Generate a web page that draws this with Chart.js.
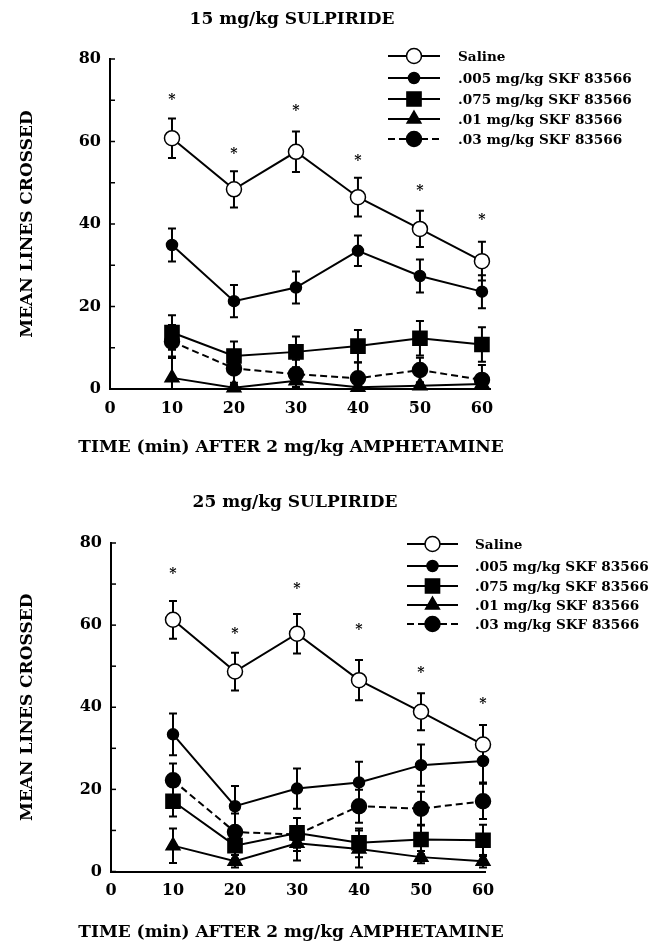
<!DOCTYPE html>
<html>
<head>
<meta charset="utf-8">
<script src="https://cdn.jsdelivr.net/npm/chart.js@4/dist/chart.umd.min.js"></script>
<style>
  body { margin: 0; background: #fff; }
  canvas { display: block; }
</style>
</head>
<body>
<canvas id="top" width="648" height="471"></canvas>
<canvas id="bottom" width="648" height="472"></canvas>
<script>
// x values (minutes after amphetamine) and axis ticks
const times = [10, 20, 30, 40, 50, 60];
const xTickValues = [0, 10, 20, 30, 40, 50, 60];
const yTickValues = [0, 10, 20, 30, 40, 50, 60, 70, 80];
const yLabelValues = [0, 20, 40, 60, 80];

const seriesNames = ['Saline', '.005 mg/kg SKF 83566', '.075 mg/kg SKF 83566', '.01 mg/kg SKF 83566', '.03 mg/kg SKF 83566'];

// 15 mg/kg sulpiride
const saline15 = [60.8, 48.4, 57.5, 46.5, 38.8, 31.0];
const saline15Err = [4.8, 4.4, 4.9, 4.7, 4.4, 4.7];
const skf005_15 = [34.9, 21.3, 24.6, 33.5, 27.4, 23.6];
const skf005_15Err = [4.0, 3.9, 3.9, 3.7, 4.0, 4.0];
const skf075_15 = [13.7, 8.0, 9.0, 10.4, 12.3, 10.8];
const skf075_15Err = [4.2, 3.5, 3.7, 3.9, 4.2, 4.2];
const skf01_15 = [2.7, 0.3, 2.0, 0.4, 0.8, 1.2];
const skf01_15Err = [5.2, 0.8, 1.5, 0.8, 0.8, 1.0];
const skf03_15 = [11.5, 5.0, 3.6, 2.6, 4.6, 2.2];
const skf03_15Err = [4.0, 3.5, 3.5, 3.8, 3.0, 3.6];
const stars15 = [70.8, 57.5, 68.0, 55.8, 48.7, 41.5];

// 25 mg/kg sulpiride
const saline25 = [61.3, 48.7, 57.9, 46.6, 38.9, 30.9];
const saline25Err = [4.6, 4.6, 4.8, 4.9, 4.5, 4.8];
const skf005_25 = [33.4, 15.9, 20.2, 21.7, 25.9, 26.9];
const skf005_25Err = [5.1, 4.9, 4.9, 5.0, 5.0, 5.2];
const skf075_25 = [17.1, 6.3, 9.4, 7.0, 7.8, 7.6];
const skf075_25Err = [3.7, 3.2, 3.6, 3.5, 3.6, 3.8];
const skf01_25 = [6.3, 2.5, 6.9, 5.5, 3.5, 2.5];
const skf01_25Err = [4.2, 1.5, 4.2, 4.5, 1.5, 1.5];
const skf03_25 = [22.2, 9.6, 9.0, 15.9, 15.3, 17.1];
const skf03_25Err = [4.1, 4.5, 4.0, 4.0, 4.1, 4.3];
const stars25 = [73.1, 58.6, 69.5, 59.4, 48.9, 41.4];

const FONT = "'DejaVu Serif', serif";

// marker look per series (same order as seriesNames)
const styles = [
  { pointStyle: 'circle', radius: 7.5, fill: '#fff', dash: [] },
  { pointStyle: 'circle', radius: 5.5, fill: '#000', dash: [] },
  { pointStyle: 'rect', radius: 10, fill: '#000', dash: [] },
  { pointStyle: 'triangle', radius: 8, fill: '#000', dash: [] },
  { pointStyle: 'circle', radius: 7.5, fill: '#000', dash: [7, 4] }
];

function drawMarker(ctx, style, r, x, y, fill) {
  ctx.save();
  ctx.fillStyle = fill;
  ctx.strokeStyle = '#000';
  ctx.lineWidth = 1.5;
  ctx.setLineDash([]);
  ctx.beginPath();
  if (style === 'rect') {
    const s = r / Math.SQRT2;
    ctx.rect(x - s, y - s, 2 * s, 2 * s);
  } else if (style === 'triangle') {
    ctx.moveTo(x, y - r);
    ctx.lineTo(x + Math.sin(Math.PI * 2 / 3) * r, y + r / 2);
    ctx.lineTo(x - Math.sin(Math.PI * 2 / 3) * r, y + r / 2);
    ctx.closePath();
  } else {
    ctx.arc(x, y, r, 0, Math.PI * 2);
  }
  ctx.fill();
  ctx.stroke();
  ctx.restore();
}

// error bars, drawn under the markers
const errorBars = {
  id: 'errorBars',
  beforeDatasetsDraw(chart) {
    const ctx = chart.ctx, xs = chart.scales.x, ys = chart.scales.y, area = chart.chartArea;
    ctx.save();
    ctx.beginPath();
    ctx.rect(area.left - 10, area.top - 20, area.right - area.left + 20, area.bottom - area.top + 20);
    ctx.clip();
    ctx.strokeStyle = '#000';
    ctx.lineWidth = 2;
    chart.data.datasets.forEach(ds => {
      ds.data.forEach((p, i) => {
        const e = ds.errors[i];
        const x = xs.getPixelForValue(p.x);
        const yt = ys.getPixelForValue(p.y + e);
        const yb = Math.min(ys.getPixelForValue(p.y - e), area.bottom);
        ctx.beginPath();
        ctx.moveTo(x, yt); ctx.lineTo(x, yb);
        ctx.moveTo(x - 4, yt); ctx.lineTo(x + 4, yt);
        if (p.y - e > 0) { ctx.moveTo(x - 4, yb); ctx.lineTo(x + 4, yb); }
        ctx.stroke();
      });
    });
    ctx.restore();
  }
};

// y ticks pointing into the plot, asterisks, legend and titles
const decorations = {
  id: 'decorations',
  afterDraw(chart, args, opts) {
    const ctx = chart.ctx, xs = chart.scales.x, ys = chart.scales.y, area = chart.chartArea;
    ctx.save();
    ctx.strokeStyle = '#000';
    ctx.fillStyle = '#000';
    ctx.lineWidth = 1.5;
    ys.ticks.forEach(t => {
      const y = ys.getPixelForValue(t.value);
      ctx.beginPath();
      ctx.moveTo(area.left, y); ctx.lineTo(area.left + 5, y);
      ctx.stroke();
    });

    ctx.font = 'bold 14px ' + FONT;
    ctx.textAlign = 'center';
    ctx.textBaseline = 'middle';
    opts.stars.forEach((v, i) => {
      ctx.fillText('*', xs.getPixelForValue(times[i]), ys.getPixelForValue(v) + 3);
    });

    // legend
    const lg = opts.legend;
    ctx.font = 'bold 13.6px ' + FONT;
    ctx.textAlign = 'left';
    ctx.lineWidth = 2;
    chart.data.datasets.forEach((ds, i) => {
      const y = lg.rows[i];
      ctx.beginPath();
      ctx.setLineDash(ds.borderDash || []);
      ctx.moveTo(lg.x0, y); ctx.lineTo(lg.x1, y);
      ctx.stroke();
      ctx.setLineDash([]);
      drawMarker(ctx, ds.pointStyle, ds.pointRadius, (lg.x0 + lg.x1) / 2, y, ds.pointBackgroundColor);
      ctx.fillStyle = '#000';
      ctx.fillText(ds.label, lg.textX, y + 1);
    });

    // titles
    ctx.textAlign = 'center';
    ctx.font = 'bold 17px ' + FONT;
    ctx.fillText(opts.title, opts.titleX, opts.titleY);
    ctx.fillText('TIME (min) AFTER 2 mg/kg AMPHETAMINE', opts.xTitleX, opts.xTitleY);
    ctx.translate(28, (area.top + area.bottom) / 2);
    ctx.rotate(-Math.PI / 2);
    ctx.fillText('MEAN LINES CROSSED', 0, 0);
    ctx.restore();
  }
};

function makeChart(id, series, errors, cfg) {
  const datasets = series.map((vals, k) => ({
    label: seriesNames[k],
    data: vals.map((v, i) => ({ x: times[i], y: v })),
    errors: errors[k],
    borderColor: '#000',
    borderWidth: 2,
    borderDash: styles[k].dash,
    pointStyle: styles[k].pointStyle,
    pointRadius: styles[k].radius,
    pointBackgroundColor: styles[k].fill,
    pointBorderColor: '#000',
    pointBorderWidth: 1.5,
    tension: 0,
    fill: false,
    clip: 12
  }));
  const tickFont = { family: FONT, size: 16, weight: 'bold' };
  return new Chart(document.getElementById(id), {
    type: 'line',
    data: { datasets },
    plugins: [errorBars, decorations],
    options: {
      responsive: false,
      animation: false,
      layout: { padding: { top: cfg.top, right: cfg.right, left: 0, bottom: 0 } },
      plugins: {
        legend: { display: false },
        tooltip: { enabled: false },
        decorations: cfg.deco
      },
      scales: {
        x: {
          type: 'linear', min: 0, max: cfg.xMax,
          afterBuildTicks: s => { s.ticks = xTickValues.map(v => ({ value: v })); },
          afterFit: s => { s.height = cfg.xHeight; },
          grid: { display: false, drawTicks: false },
          border: { display: true, color: '#000', width: 2 },
          ticks: { color: '#000', font: tickFont, padding: 10, maxRotation: 0, autoSkip: false }
        },
        y: {
          type: 'linear', min: 0, max: 80,
          afterBuildTicks: s => { s.ticks = yTickValues.map(v => ({ value: v })); },
          afterFit: s => { s.width = cfg.left; },
          grid: { display: false, drawTicks: false },
          border: { display: true, color: '#000', width: 2 },
          ticks: {
            color: '#000', font: tickFont, padding: 9, autoSkip: false,
            callback: v => yLabelValues.includes(v) ? String(v) : ''
          }
        }
      }
    }
  });
}

makeChart('top',
  [saline15, skf005_15, skf075_15, skf01_15, skf03_15],
  [saline15Err, skf005_15Err, skf075_15Err, skf01_15Err, skf03_15Err],
  {
    top: 59, right: 158, left: 110, xMax: 61.3, xHeight: 82,
    deco: {
      stars: stars15,
      title: '15 mg/kg SULPIRIDE', titleX: 292, titleY: 20,
      xTitleX: 291, xTitleY: 448,
      legend: { x0: 388, x1: 440, textX: 458, rows: [56, 78, 99, 119, 139] }
    }
  });

makeChart('bottom',
  [saline25, skf005_25, skf075_25, skf01_25, skf03_25],
  [saline25Err, skf005_25Err, skf075_25Err, skf01_25Err, skf03_25Err],
  {
    top: 72, right: 162.5, left: 111, xMax: 60.4, xHeight: 71.5,
    deco: {
      stars: stars25,
      title: '25 mg/kg SULPIRIDE', titleX: 295, titleY: 32,
      xTitleX: 291, xTitleY: 462,
      legend: { x0: 407, x1: 458, textX: 475, rows: [73, 95, 115, 134, 153] }
    }
  });
</script>
</body>
</html>
